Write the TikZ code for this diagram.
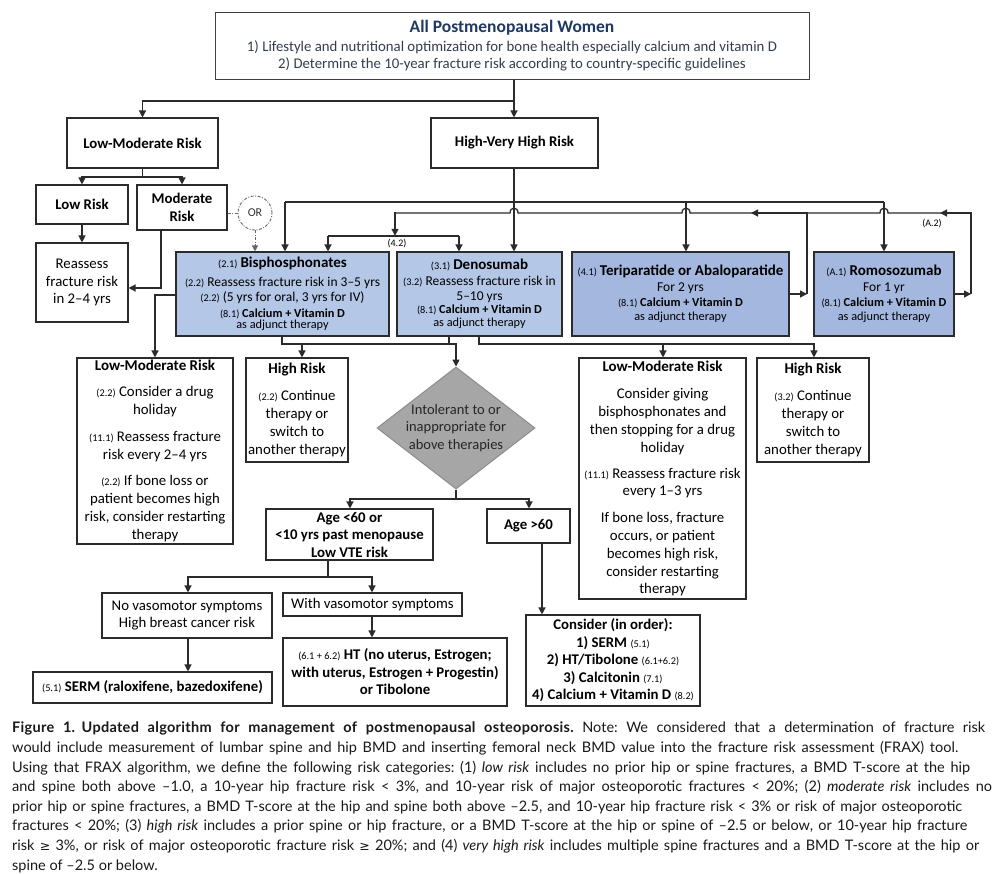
\documentclass[tikz,border=0pt]{standalone}
\usepackage{fontspec}
\setmainfont{Carlito}
\newfontfamily\capfont{Lato}[BoldFeatures={LetterSpace=2}]
\newfontfamily\symfont{DejaVu Sans}
\usetikzlibrary{arrows.meta,shapes.geometric}
\definecolor{blueA}{HTML}{B4C7E7}
\definecolor{blueB}{HTML}{A3B7DF}
\definecolor{linec}{HTML}{2B2B2B}
\definecolor{navy}{HTML}{1F3864}
\definecolor{slate}{HTML}{333D4F}
\definecolor{diag}{HTML}{A6A6A6}
\newcommand{\smlab}[1]{{\fontsize{10.3}{11}\selectfont #1}}
\newcommand{\boxttl}[1]{{\fontsize{15}{17}\selectfont\bfseries #1}}
\newcommand{\adj}[1]{{\fontsize{12.3}{13}\selectfont #1}}
\newcommand{\capgeq}{{\symfont\fontsize{12.5}{13}\selectfont ≥}}
\newcommand{\capline}[2]{\makebox[#1pt][s]{#2}}
\frenchspacing
\begin{document}
\begin{tikzpicture}[x=1pt,y=-1pt,
  box/.style={draw=linec, line width=1.1pt, fill=white, align=center, inner sep=1pt, text=black, font=\fontsize{14.8}{17.8}\selectfont},
  boldbox/.style={box, font=\fontsize{14.8}{17.5}\selectfont\bfseries},
  bbox/.style={box, fill=blueA, font=\fontsize{13.5}{15.5}\selectfont},
  bboxd/.style={bbox, fill=blueB},
  conn/.style={draw=linec, line width=1.3pt},
  arr/.style={conn, -{Triangle[length=7pt,width=7pt]}},
  dsh/.style={draw=black!60, line width=0.9pt, dash pattern=on 3pt off 1.5pt on 1pt off 1.5pt},
  lab/.style={font=\fontsize{10}{11}\selectfont, inner sep=0pt},
]
\fill[white] (0,0) rectangle (998,873);
\useasboundingbox (0,0) rectangle (998,873);

% ---------- nodes ----------
\node[box, draw=black!75, line width=1pt, text=slate, font=\fontsize{14.8}{17}\selectfont, minimum width=594pt, minimum height=67pt] (top) at (512,45.5)
 {{\color{navy}\fontsize{17.5}{19}\selectfont\bfseries All Postmenopausal Women}\\[1.5pt]
  1) Lifestyle and nutritional optimization for bone health especially calcium and vitamin D\\
  2) Determine the 10-year fracture risk according to country-specific guidelines};

\node[boldbox, minimum width=151pt, minimum height=50pt] (lmr) at (142.5,143) {Low-Moderate Risk};
\node[boldbox, minimum width=167pt, minimum height=50pt] (hvh) at (514.5,143) {High-Very High Risk};
\node[boldbox, minimum width=92pt, minimum height=39pt] (low) at (82,204.5) {Low Risk};
\node[boldbox, minimum width=90pt, minimum height=45pt] (mod) at (182,207.5) {Moderate\\Risk};
\node[box, font=\fontsize{14.8}{17.5}\selectfont, minimum width=92pt, minimum height=79pt] (reass) at (82,282.5) {Reassess\\fracture risk\\in 2–4 yrs};
\node[circle, dsh, minimum size=34pt, inner sep=0pt, font=\fontsize{12}{13}\selectfont, text=black!80] (or) at (255,213) {OR};

\node[bbox, minimum width=213pt, minimum height=84pt] (bis) at (282.5,294)
 {\smlab{(2.1)} \boxttl{Bisphosphonates}\\[3pt]
  \smlab{(2.2)} Reassess fracture risk in 3–5 yrs\\
  \smlab{(2.2)} (5 yrs for oral, 3 yrs for IV)\\
  \adj{\smlab{(8.1)} \textbf{Calcium + Vitamin D}}\\[-4pt]
  \adj{as adjunct therapy}};
\node[bbox, minimum width=165pt, minimum height=84pt] (den) at (479.5,294)
 {\smlab{(3.1)} \boxttl{Denosumab}\\
  \smlab{(3.2)} Reassess fracture risk in\\
  5–10 yrs\\[-3pt]
  \adj{\smlab{(8.1)} \textbf{Calcium + Vitamin D}}\\[-2pt]
  \adj{as adjunct therapy}};
\node[bboxd, minimum width=217pt, minimum height=84pt] (ter) at (680.5,294)
 {\smlab{(4.1)} \boxttl{Teriparatide or Abaloparatide}\\
  For 2 yrs\\
  \adj{\smlab{(8.1)} \textbf{Calcium + Vitamin D}}\\[-2pt]
  \adj{as adjunct therapy}};
\node[bboxd, minimum width=140pt, minimum height=84pt] (rom) at (884,294)
 {\smlab{(A.1)} \boxttl{Romosozumab}\\
  For 1 yr\\
  \adj{\smlab{(8.1)} \textbf{Calcium + Vitamin D}}\\[-2pt]
  \adj{as adjunct therapy}};

\node[box, minimum width=156pt, minimum height=186pt] (lml) at (155,451)
 {\boxttl{Low-Moderate Risk}\\[8pt]
  \smlab{(2.2)} Consider a drug\\ holiday\\[9pt]
  \smlab{(11.1)} Reassess fracture\\ risk every 2–4 yrs\\[9pt]
  \smlab{(2.2)} If bone loss or\\ patient becomes high\\ risk, consider restarting\\ therapy};
\node[box, minimum width=102pt, minimum height=104pt] (hrl) at (297,410)
 {\boxttl{High Risk}\\[9pt] \smlab{(2.2)} Continue\\ therapy or\\ switch to\\ another therapy};

\node[diamond, draw=black!45, line width=1pt, fill=diag, aspect=1.3, inner sep=-20pt, minimum width=158pt, minimum height=122pt, align=center, font=\fontsize{14.5}{17.5}\selectfont, text=black!85] (dia) at (456,428)
 {Intolerant to or\\inappropriate for\\above therapies};

\node[box, minimum width=167pt, minimum height=241pt] (lmr2) at (662.5,478.5)
 {\boxttl{Low-Moderate Risk}\\[10pt]
  Consider giving\\ bisphosphonates and\\ then stopping for a drug\\ holiday\\[8pt]
  \smlab{(11.1)} Reassess fracture risk\\ every 1–3 yrs\\[9pt]
  If bone loss, fracture\\ occurs, or patient\\ becomes high risk,\\ consider restarting\\ therapy};
\node[box, minimum width=112pt, minimum height=104pt] (hrr) at (813,410)
 {\boxttl{High Risk}\\[9pt] \smlab{(3.2)} Continue\\ therapy or\\ switch to\\ another therapy};

\node[boldbox, minimum width=167pt, minimum height=51pt] (age1) at (349.5,534.5) {Age <60 or\\ <10 yrs past menopause\\ Low VTE risk};
\node[boldbox, minimum width=83pt, minimum height=34pt] (age2) at (528.5,526) {Age >60};
\node[box, font=\fontsize{14.8}{17}\selectfont, minimum width=170pt, minimum height=45pt] (novaso) at (187,615.5) {No vasomotor symptoms\\High breast cancer risk};
\node[box, minimum width=179pt, minimum height=23pt] (vaso) at (372.5,604.5) {With vasomotor symptoms};
\node[box, minimum width=239pt, minimum height=31pt] (serm) at (152.5,687.5) {\smlab{(5.1)} \textbf{SERM (raloxifene, bazedoxifene)}};
\node[box, font=\fontsize{14.8}{17.5}\selectfont, minimum width=224pt, minimum height=68pt] (ht) at (395,672)
 {\smlab{(6.1 + 6.2)} \textbf{HT (no uterus, Estrogen;}\\ \textbf{with uterus, Estrogen + Progestin)}\\ \textbf{or Tibolone}};
\node[box, font=\fontsize{14.8}{17.5}\selectfont, minimum width=174pt, minimum height=91pt] (cons) at (613,660.5)
 {\textbf{Consider (in order):}\\ \textbf{1) SERM} \smlab{(5.1)}\\ \textbf{2) HT/Tibolone} \smlab{(6.1+6.2)}\\ \textbf{3) Calcitonin} \smlab{(7.1)}\\ \textbf{4) Calcium + Vitamin D} \smlab{(8.2)}};

% ---------- connectors ----------
\draw[arr] (top.south -| 514,0) -- (hvh.north -| 514,0);
\coordinate (j1) at (514,101);
\draw[arr] (j1) -| (lmr.north);
\coordinate (j2) at (142.5,177);
\draw[conn] (lmr.south) -- (j2);
\draw[arr] (j2) -| (low.north);
\draw[arr] (j2) -| (mod.north);
\draw[arr] (low.south) -- (reass.north);
\draw[arr] (mod.south -| 161,0) |- (reass.east |- 0,288);
\draw[dsh] (mod.east |- or.west) -- (or.west);
\draw[dsh, -{Triangle[length=6pt,width=6pt]}] (or.south) -- (or.south |- bis.north);

\draw[arr] (hvh.south -| 514,0) -- (den.north -| 514,0);
\coordinate (t1) at (285,202);
\coordinate (t2) at (884,202);
\draw[conn] (t1) -- (t2);
\draw[arr] (t1) -- (bis.north -| t1);
\draw[arr] (686,202) -- (ter.north -| 686,0);
\draw[arr] (t2) -- (rom.north -| t2);

\coordinate (r1) at (807,294);
\coordinate (r2) at (971,294);
\draw[arr] (ter.east |- r1) -- (r1);
\draw[arr] (rom.east |- r2) -- (r2);
\draw[arr] (r1) -- (807,213) -- (751,213);
\draw[conn] (753,213) -- (690,213) .. controls (690,206.5) and (682,206.5) .. (682,213) -- (518,213) .. controls (518,206.5) and (510,206.5) .. (510,213) -- (395,213);
\draw[arr] (395,212.4) -- (395,235.8);
\draw[conn] (328,236) -- (459,236);
\draw[arr] (328,236) -- (bis.north -| 328,0);
\draw[arr] (459,236) -- (den.north -| 459,0);
\node[lab] (l42) at (397,244) {(4.2)};
\draw[arr] (r2) -- (971,213) -- (940,213);
\draw[conn] (942,213) -- (888,213) .. controls (888,206.5) and (880,206.5) .. (880,213) -- (807,213);
\node[lab] (la2) at (932,224) {(A.2)};

\draw[arr] (bis.west |- 0,295) -| (lml.north);
\draw[arr] (bis.south -| 282,0) |- (456,344) -- (dia.north);
\draw[conn] (den.south -| 449,0) -- (449,344);
\draw[arr] (302,344) -- (hrl.north -| 302,0);
\draw[arr] (den.south -| 479,0) |- (814,344) -- (hrr.north -| 814,0);
\draw[arr] (663,344) -- (lmr2.north -| 663,0);

\coordinate (j5) at (456,499);
\draw[conn] (dia.south) -- (j5);
\draw[arr] (j5) -| (age1.north -| 350,0);
\draw[arr] (j5) -| (age2.north -| 529,0);
\coordinate (j6) at (328,577);
\draw[conn] (age1.south -| 328,0) -- (j6);
\draw[arr] (j6) -| (novaso.north -| 188,0);
\draw[arr] (j6) -| (vaso.north -| 372,0);
\draw[arr] (novaso.south -| 188,0) -- (serm.north -| 188,0);
\draw[arr] (vaso.south -| 372,0) -- (ht.north -| 372,0);
\draw[arr] (age2.south -| 542,0) -- (cons.north -| 542,0);

% ---------- caption ----------
\node[anchor=north west, inner sep=0pt, align=left, font=\capfont\fontsize{14.5}{19.6}\selectfont, text=black!90] (cap) at (12,722)
 {\capline{973}{\textbf{Figure 1.\hspace{0.45em}Updated algorithm for management of postmenopausal osteoporosis.} Note: We considered that a determination of fracture risk}\\
  \capline{946}{would include measurement of lumbar spine and hip BMD and inserting femoral neck BMD value into the fracture risk assessment (FRAX) tool.}\\
  \capline{958}{Using that FRAX algorithm, we define the following risk categories: (1) \textit{low risk} includes no prior hip or spine fractures, a BMD T-score at the hip}\\
  \capline{980}{and spine both above –1.0, a 10-year hip fracture risk < 3\%, and 10-year risk of major osteoporotic fractures < 20\%; (2) \textit{moderate risk} includes no}\\
  \capline{950}{prior hip or spine fractures, a BMD T-score at the hip and spine both above –2.5, and 10-year hip fracture risk < 3\% or risk of major osteoporotic}\\
  \capline{955}{fractures < 20\%; (3) \textit{high risk} includes a prior spine or hip fracture, or a BMD T-score at the hip or spine of –2.5 or below, or 10-year hip fracture}\\
  \capline{967}{risk \capgeq{} 3\%, or risk of major osteoporotic fracture risk \capgeq{} 20\%; and (4) \textit{very high risk} includes multiple spine fractures and a BMD T-score at the hip or}\\
  spine of –2.5 or below.};
\end{tikzpicture}
\end{document}
